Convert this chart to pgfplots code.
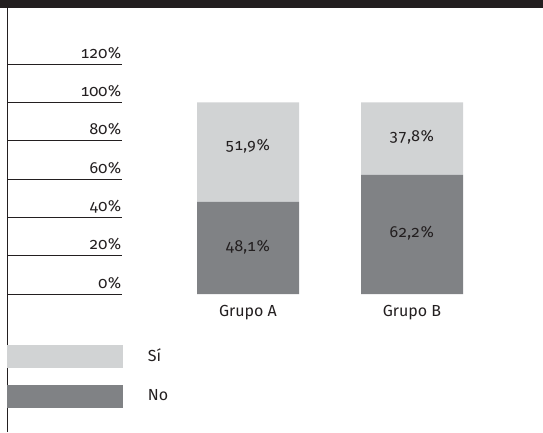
\documentclass[border=0pt]{standalone}
\usepackage{fontspec}
\setmainfont{Fira Sans}[Numbers={OldStyle,Monospaced}]
\usepackage{pgfplots}
\pgfplotsset{compat=1.18}
\definecolor{lightg}{HTML}{D1D3D4}
\definecolor{darkg}{HTML}{808285}
\definecolor{ink}{HTML}{231F20}
\newcommand{\chartfont}{\fontsize{16pt}{19pt}\selectfont}
\begin{document}
\chartfont
\begin{tikzpicture}[font=\chartfont, text=ink]
\path[use as bounding box] (0,0) rectangle (543pt,432pt);
\fill[ink] (0,424pt) rectangle (543pt,432pt);
\draw[ink, line width=0.9pt] (7pt,0) -- (7pt,424pt);
\begin{axis}[
  at={(8pt,138pt)}, anchor=south west, scale only axis,
  width=535pt, height=230pt,
  xmin=-1.4634, xmax=1.7988, ymin=0, ymax=120,
  ybar stacked, bar width=102pt,
  axis line style={draw=none},
  tick label style={font=\chartfont},
  xtick={0,1}, xticklabels={Grupo A, Grupo B}, xtick style={draw=none},
  xticklabel style={yshift=-5.5pt, text=ink},
  ytick={0,20,...,120}, yticklabels={0\%,20\%,40\%,60\%,80\%,100\%,120\%},
  ytick pos=left, tick align=inside, major tick length=114pt,
  ytick style={draw=ink, line width=0.8pt},
  yticklabel style={anchor=base east, inner sep=0pt, xshift=114pt, yshift=6pt, text=ink},
  clip=false,
  reverse legend,
  legend style={at={(-0.0019,-0.2217)}, anchor=north west, draw=none, fill=none,
    inner sep=0pt, outer sep=0pt, row sep=17pt, column sep=23pt, text=ink, font=\chartfont},
  legend cell align=left,
]
\addplot[fill=darkg, draw=none, legend image code/.code={\fill[darkg] (0pt,-11.5pt) rectangle (116pt,11.5pt);}]
  coordinates {(0,48.1) (1,62.2)};
\addlegendentry{No}
\addplot[fill=lightg, draw=none, legend image code/.code={\fill[lightg] (0pt,-11.5pt) rectangle (116pt,11.5pt);}]
  coordinates {(0,51.9) (1,37.8)};
\addlegendentry{Sí}
\end{axis}
\begin{axis}[
  at={(8pt,138pt)}, anchor=south west, scale only axis,
  width=535pt, height=230pt,
  xmin=-1.4634, xmax=1.7988, ymin=0, ymax=120,
  hide axis, clip=false,
]
\addplot[draw=none, mark=none, nodes near coords, point meta=explicit symbolic,
  nodes near coords style={anchor=center, text=ink, font=\chartfont}]
  coordinates {(0,24.5) [{48,1\%}] (0,77) [{51,9\%}] (1,32) [{62,2\%}] (1,82) [{37,8\%}]};
\end{axis}
\end{tikzpicture}
\end{document}
